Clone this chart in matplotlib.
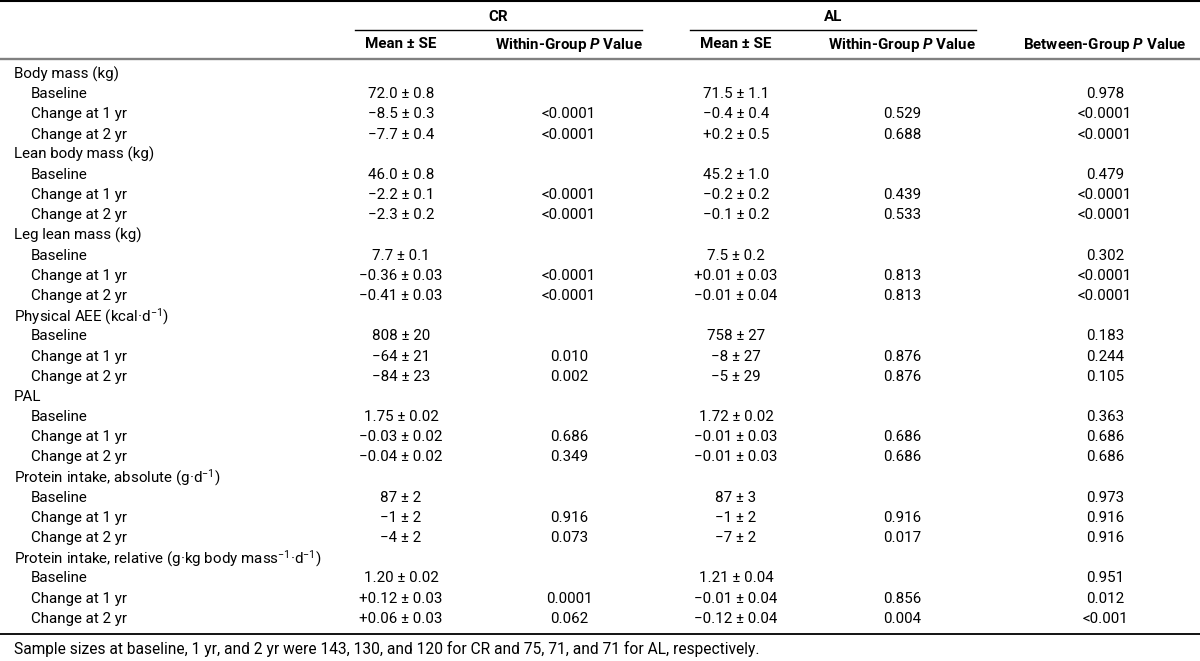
import matplotlib
matplotlib.use("Agg")
import matplotlib.pyplot as plt

plt.rcParams['font.family'] = ['Roboto', 'DejaVu Sans']
plt.rcParams['mathtext.fontset'] = 'custom'
plt.rcParams['mathtext.rm'] = 'Roboto'
plt.rcParams['mathtext.it'] = 'Roboto:italic'
plt.rcParams['mathtext.bf'] = 'Roboto:bold'
plt.rcParams['mathtext.bfit'] = 'Roboto:italic:bold'

# table content
groups = ["Body mass (kg)", "Lean body mass (kg)", "Leg lean mass (kg)",
          "Physical AEE (kcal·d$^{-1}$)", "PAL",
          "Protein intake, absolute (g·d$^{-1}$)",
          "Protein intake, relative (g·kg body mass$^{-1}$·d$^{-1}$)"]
sub_rows = ["Baseline", "Change at 1 yr", "Change at 2 yr"]

cr_mean = ["72.0 ± 0.8", "−8.5 ± 0.3", "−7.7 ± 0.4",
           "46.0 ± 0.8", "−2.2 ± 0.1", "−2.3 ± 0.2",
           "7.7 ± 0.1", "−0.36 ± 0.03", "−0.41 ± 0.03",
           "808 ± 20", "−64 ± 21", "−84 ± 23",
           "1.75 ± 0.02", "−0.03 ± 0.02", "−0.04 ± 0.02",
           "87 ± 2", "−1 ± 2", "−4 ± 2",
           "1.20 ± 0.02", "+0.12 ± 0.03", "+0.06 ± 0.03"]
cr_p = ["", "<0.0001", "<0.0001",
        "", "<0.0001", "<0.0001",
        "", "<0.0001", "<0.0001",
        "", "0.010", "0.002",
        "", "0.686", "0.349",
        "", "0.916", "0.073",
        "", "0.0001", "0.062"]
al_mean = ["71.5 ± 1.1", "−0.4 ± 0.4", "+0.2 ± 0.5",
           "45.2 ± 1.0", "−0.2 ± 0.2", "−0.1 ± 0.2",
           "7.5 ± 0.2", "+0.01 ± 0.03", "−0.01 ± 0.04",
           "758 ± 27", "−8 ± 27", "−5 ± 29",
           "1.72 ± 0.02", "−0.01 ± 0.03", "−0.01 ± 0.03",
           "87 ± 3", "−1 ± 2", "−7 ± 2",
           "1.21 ± 0.04", "−0.01 ± 0.04", "−0.12 ± 0.04"]
al_p = ["", "0.529", "0.688",
        "", "0.439", "0.533",
        "", "0.813", "0.813",
        "", "0.876", "0.876",
        "", "0.686", "0.686",
        "", "0.916", "0.017",
        "", "0.856", "0.004"]
between_p = ["0.978", "<0.0001", "<0.0001",
             "0.479", "<0.0001", "<0.0001",
             "0.302", "<0.0001", "<0.0001",
             "0.183", "0.244", "0.105",
             "0.363", "0.686", "0.686",
             "0.973", "0.916", "0.916",
             "0.951", "0.012", "<0.001"]

footnote = ("Sample sizes at baseline, 1 yr, and 2 yr were 143, 130, and 120 "
            "for CR and 75, 71, and 71 for AL, respectively.")

fig = plt.figure(figsize=(12, 6.61), dpi=100)
ax = fig.add_axes([0, 0, 1, 1])
ax.set_xlim(0, 1200)
ax.set_ylim(661, 0)
ax.axis('off')

fs = 10.9
col_x = [401, 569, 736, 902, 1105]
y0 = 74
dy = 20.18

# header
ax.axhline(1, color='black', lw=1.5)
ax.text(498, 17, "CR", ha='center', va='center', fontsize=fs, fontweight='bold')
ax.text(833, 17, "AL", ha='center', va='center', fontsize=fs, fontweight='bold')
ax.plot([355, 642], [30, 30], color='black', lw=1)
ax.plot([690, 976], [30, 30], color='black', lw=1)
heads = ["Mean ± SE", r"Within-Group $\mathbfit{P}$ Value",
         "Mean ± SE", r"Within-Group $\mathbfit{P}$ Value",
         r"Between-Group $\mathbfit{P}$ Value"]
for x, h in zip(col_x, heads):
    ax.text(x, 44.5, h, ha='center', va='center', fontsize=fs, fontweight='bold')
ax.axhline(58.5, color='#808080', lw=1.7)

# body
row = 0
for g, name in enumerate(groups):
    ax.text(14, y0 + row * dy, name, ha='left', va='center', fontsize=fs)
    row += 1
    for k, sub in enumerate(sub_rows):
        i = g * 3 + k
        y = y0 + row * dy
        ax.text(31, y, sub, ha='left', va='center', fontsize=fs)
        for x, col in zip(col_x, [cr_mean, cr_p, al_mean, al_p, between_p]):
            ax.text(x, y, col[i], ha='center', va='center', fontsize=fs)
        row += 1

ax.axhline(634, color='black', lw=1.3)
ax.text(14, 649, footnote, ha='left', va='center', fontsize=11.2)

fig.savefig("out.png", dpi=100)
